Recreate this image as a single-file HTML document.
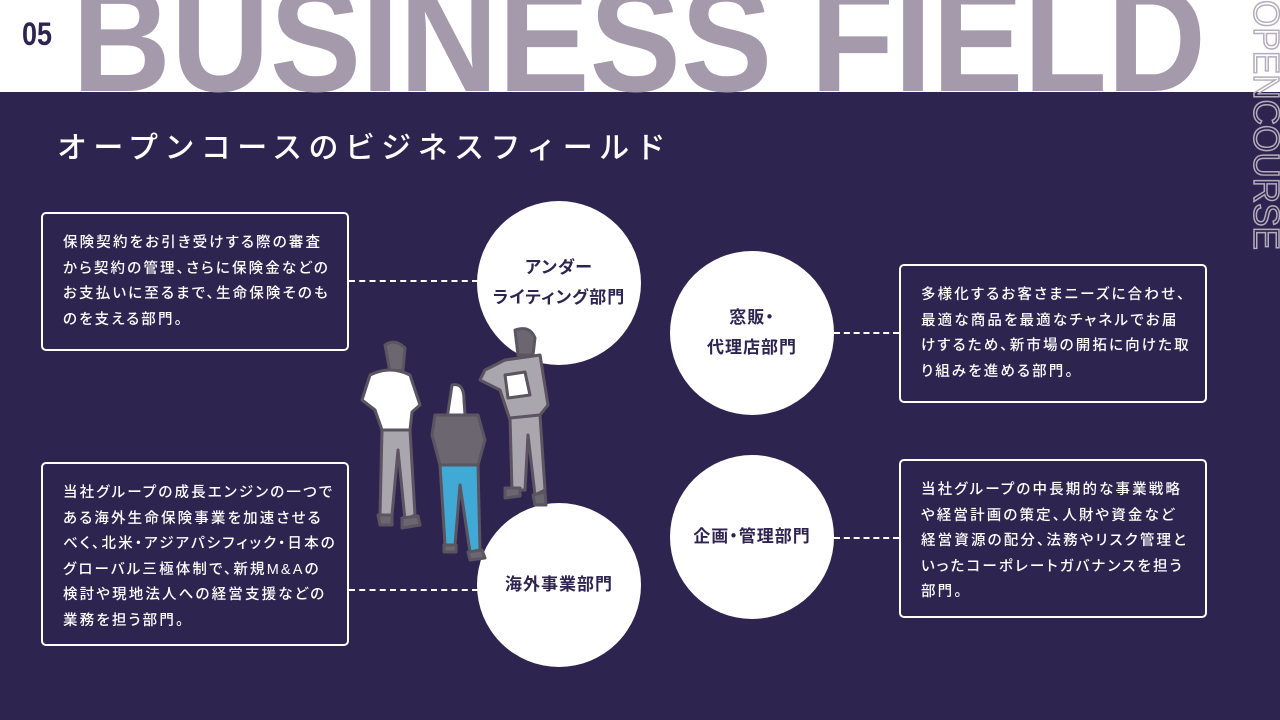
<!DOCTYPE html>
<html><head><meta charset="utf-8"><style>
*{margin:0;padding:0;box-sizing:border-box}
body{width:1280px;height:720px;overflow:hidden;background:#2d2550;position:relative;font-family:"Liberation Sans","Noto Sans CJK JP",sans-serif;color:#fff}
.top{position:absolute;left:0;top:0;width:1280px;height:92px;background:#fff}
.box{position:absolute;border:2px solid #fff;border-radius:5px;padding:17px 0 0 20px;font-size:14.5px;letter-spacing:2.15px;line-height:25.6px;white-space:nowrap;font-weight:500;font-feature-settings:"palt"}
.c{position:absolute;width:164px;height:164px;border-radius:50%;background:#fff;color:#2d2550;display:flex;align-items:center;justify-content:center;text-align:center;font-size:17px;font-weight:bold;letter-spacing:1px;line-height:30px;font-feature-settings:"palt"}
.d{position:absolute;height:0;border-top:2px dashed #fff}
.title{position:absolute;left:57px;top:123px;font-size:30px;letter-spacing:6.4px;font-weight:500;white-space:nowrap}
</style></head><body>
<div class="top"></div>
<svg style="position:absolute;left:0;top:0" width="1280" height="260">
<text x="22" y="45" font-family="Liberation Sans" font-weight="bold" font-size="32" fill="#2d2550" textLength="30" lengthAdjust="spacingAndGlyphs">05</text>
<text x="72" y="91" font-family="Liberation Sans" font-weight="bold" font-size="150" fill="#a59aab" textLength="1134" lengthAdjust="spacingAndGlyphs">BUSINESS FIELD</text>
<text transform="translate(1254,0) rotate(90)" x="0" y="0" font-family="Liberation Sans" font-size="36" fill="none" stroke="#b5adbb" stroke-width="1.5" textLength="250" lengthAdjust="spacingAndGlyphs">OPENCOURSE</text>
</svg>
<div class="title">オープンコースのビジネスフィールド</div>

<div class="box" style="left:41px;top:212px;width:308px;height:139px">保険契約をお引き受けする際の審査<br>から契約の管理、さらに保険金などの<br>お支払いに至るまで、生命保険そのも<br>のを支える部門。</div>
<div class="box" style="left:899px;top:264px;width:308px;height:139px">多様化するお客さまニーズに合わせ、<br>最適な商品を最適なチャネルでお届<br>けするため、新市場の開拓に向けた取<br>り組みを進める部門。</div>
<div class="box" style="left:41px;top:462px;width:308px;height:184px">当社グループの成長エンジンの一つで<br>ある海外生命保険事業を加速させる<br>べく、北米・アジアパシフィック・日本の<br>グローバル三極体制で、新規M&amp;Aの<br>検討や現地法人への経営支援などの<br>業務を担う部門。</div>
<div class="box" style="left:899px;top:459px;width:308px;height:159px">当社グループの中長期的な事業戦略<br>や経営計画の策定、人財や資金など<br>経営資源の配分、法務やリスク管理と<br>いったコーポレートガバナンスを担う<br>部門。</div>

<div class="d" style="left:349px;top:280px;width:129px"></div>
<div class="d" style="left:834px;top:332px;width:65px"></div>
<div class="d" style="left:349px;top:589px;width:129px"></div>
<div class="d" style="left:834px;top:537px;width:65px"></div>

<div class="c" style="left:477px;top:201px">アンダー<br>ライティング部門</div>
<div class="c" style="left:670px;top:251px">窓販・<br>代理店部門</div>
<div class="c" style="left:477px;top:503px">海外事業部門</div>
<div class="c" style="left:670px;top:455px">企画・管理部門</div>

<svg style="position:absolute;left:340px;top:320px" width="220" height="250" stroke="#5a5560" stroke-width="3" stroke-linejoin="round">
<path d="M45 25 Q55 18 65 28 L63 50 L50 52 Z" fill="#6b6670"/>
<path d="M30 55 Q50 45 70 55 L80 85 L72 92 L70 110 L42 110 L35 90 L22 80 Z" fill="#fff"/>
<path d="M42 110 L70 110 L75 195 L65 200 L58 130 L52 195 L40 195 Z" fill="#aaa6ad"/>
<path d="M38 195 L52 195 L52 205 L40 205 Z M62 198 L78 196 L80 205 L62 208 Z" fill="#6b6670"/>
<path d="M112 65 Q124 62 124 80 L126 110 L105 112 Z" fill="#fff"/>
<path d="M95 95 L138 95 L145 120 L138 145 L100 145 L92 115 Z" fill="#6b6670"/>
<path d="M100 145 L138 145 L140 230 L130 232 L120 165 L115 225 L105 225 Z" fill="#41a9d6" stroke="#5a5560"/>
<path d="M104 225 L116 225 L116 232 L104 232 Z M128 232 L142 230 L145 238 L130 240 Z" fill="#6b6670"/>
<path d="M175 10 Q190 5 195 18 L193 35 L178 35 Z" fill="#6b6670"/>
<path d="M165 40 L200 35 L208 85 L200 95 L170 100 L160 70 L140 60 L145 50 Z" fill="#aaa6ad"/>
<path d="M165 55 L185 52 L190 75 L168 78 Z" fill="#fff"/>
<path d="M170 98 L200 95 L205 170 L195 175 L188 115 L185 170 L172 170 Z" fill="#aaa6ad"/>
<path d="M165 168 L180 168 L180 176 L165 178 Z M193 175 L205 172 L206 185 L195 185 Z" fill="#6b6670"/>
</svg>
</body></html>
